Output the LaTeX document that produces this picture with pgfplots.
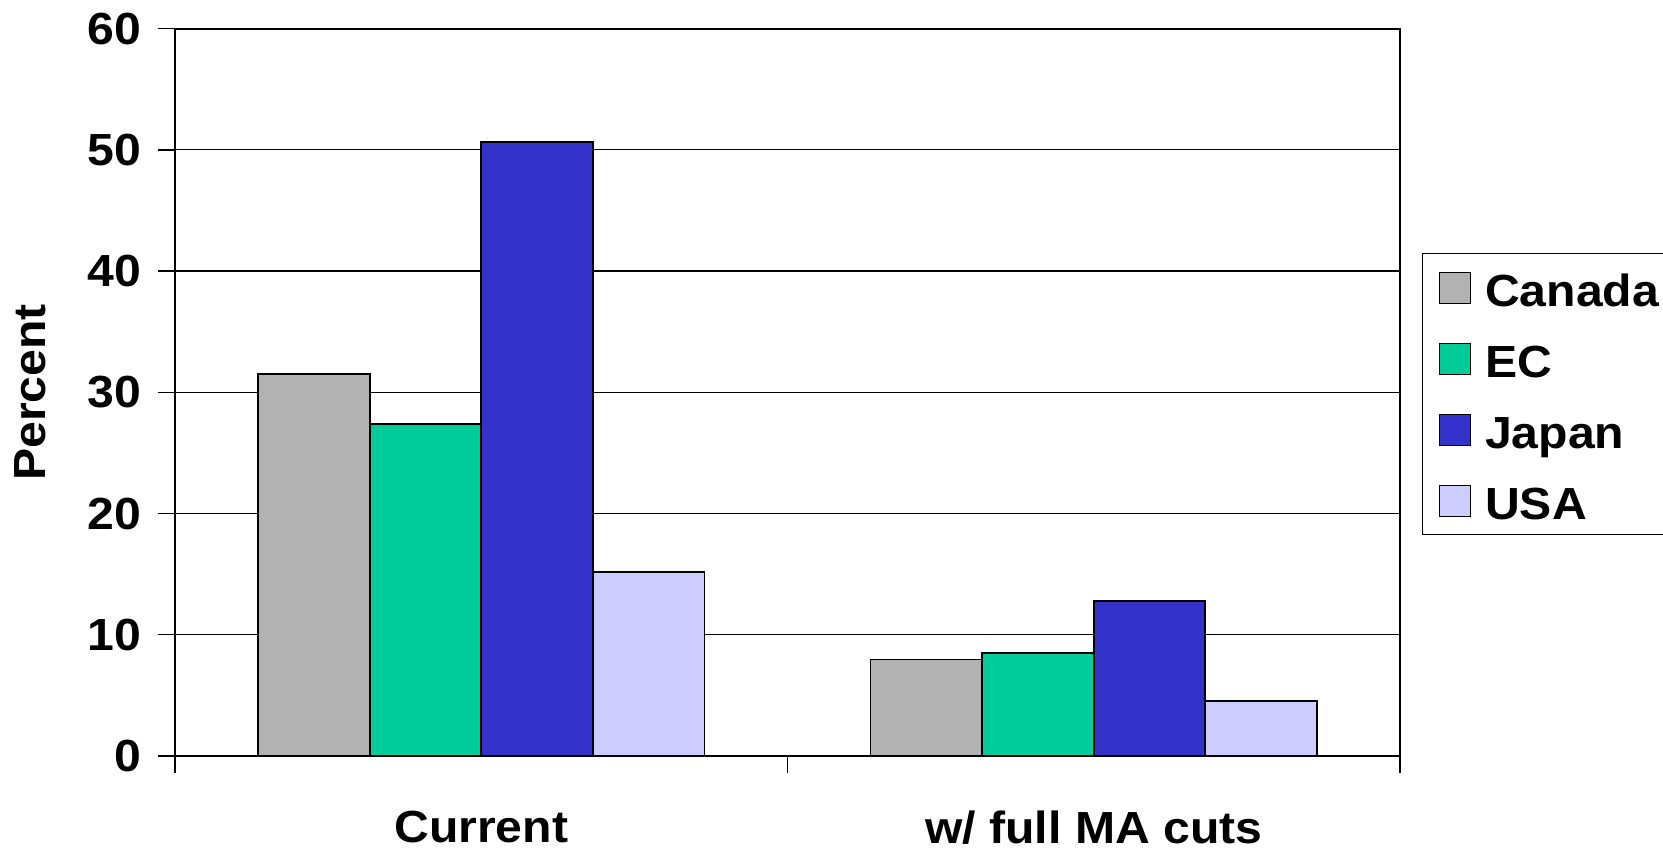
\documentclass[border=0pt]{standalone}
\usepackage{pgfplots}
\pgfplotsset{compat=1.18}
\usepackage{fontspec}
\setmainfont{Liberation Sans}[FakeStretch=1.07]

\definecolor{canada}{HTML}{B2B2B2}
\definecolor{ec}{HTML}{00CC99}
\definecolor{japan}{HTML}{3333CC}
\definecolor{usa}{HTML}{CCCCFF}

\begin{document}
\begin{tikzpicture}
\begin{axis}[
    at={(87.5pt,48pt)}, anchor=south west,
    scale only axis,
    width=612.5pt, height=363.7pt,
    ybar=0pt, bar width=55.8pt,
    xmin=-0.5, xmax=1.5,
    ymin=0, ymax=60,
    ytick={0,10,...,60},
    xtick={-0.5,0.5,1.5},
    xticklabels={},
    extra x ticks={0,1},
    extra x tick labels={Current,w/ full MA cuts},
    extra x tick style={major tick length=0pt, grid=none},
    xticklabel style={yshift=-24pt},
    yticklabel style={xshift=-5pt},
    xtick pos=bottom, ytick pos=left,
    tick align=outside,
    major tick length=8.5pt,
    tick style={black, line width=0.7pt},
    axis line style={black, line width=1.1pt},
    ymajorgrids, grid style={black, line width=0.65pt},
    /pgf/number format/assume math mode=true,
    font=\fontsize{22.5}{26}\selectfont\bfseries,
    ylabel={Percent},
    ylabel style={at={(axis description cs:0,0.5)}, anchor=center, yshift=72.5pt},
    legend style={at={(axis description cs:1.018,0.6915)}, anchor=north west,
        draw=black, line width=0.7pt, inner xsep=8pt, inner ysep=7.5pt,
        row sep=16.5pt, column sep=7pt,
        nodes={inner sep=0pt, text height=19pt, text depth=0pt},
        column 2/.style={nodes={text width=95pt}},
        font=\fontsize{22.5}{26}\selectfont\bfseries},
    legend image code/.code={\draw[#1, line width=0.7pt] (0pt,-8pt) rectangle (15.5pt,7.5pt);},
    legend cell align=left,
]
\addplot[fill=canada, draw=black, line width=0.9pt] coordinates {(0,31.5) (1,7.96)};
\addplot[fill=ec, draw=black, line width=0.9pt] coordinates {(0,27.4) (1,8.5)};
\addplot[fill=japan, draw=black, line width=0.9pt] coordinates {(0,50.65) (1,12.8)};
\addplot[fill=usa, draw=black, line width=0.9pt] coordinates {(0,15.2) (1,4.56)};
\legend{Canada,EC,Japan,USA}
\end{axis}
\pgfresetboundingbox
\useasboundingbox (0,0) rectangle (831.5pt,426pt);
\end{tikzpicture}
\end{document}
